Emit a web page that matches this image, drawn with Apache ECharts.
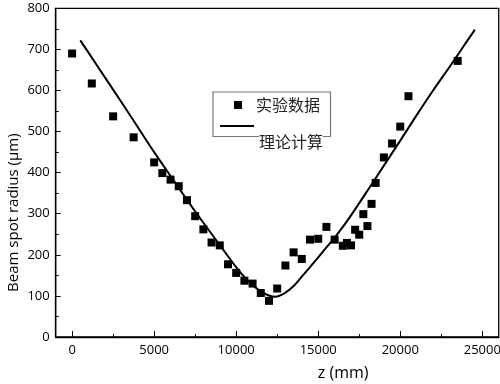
<!DOCTYPE html>
<html>
<head>
<meta charset="utf-8">
<script src="https://cdn.jsdelivr.net/npm/echarts@6/dist/echarts.min.js"></script>
<style>
html,body{margin:0;padding:0;background:#fff;}
#chart{width:500px;height:384px;}
</style>
</head>
<body>
<div id="chart"></div>
<script>
// Experimental data (z in mm, radius in μm)
const expZ = [0,1200,2500,3750,5000,5500,6000,6500,7000,7500,8000,8500,9000,9500,10000,10500,11000,11500,12000,12500,13000,13500,14000,14500,15000,15500,16000,16500,16750,17000,17250,17500,17750,18000,18250,18500,19000,19500,20000,20500,23500];
const expV = [690,617,537,486,425,399,383,367,333,294,262,230,223,177,156,137,130,107,88,118,174,206,190,237,239,268,237,222,229,223,261,249,299,270,324,375,437,471,512,586,672];
// Theoretical curve
const calcZ = [500,1000,2000,3000,4000,5000,6000,7000,8000,9000,10000,10750,11500,12000,12400,13000,13500,14000,14500,15000,15500,16000,16500,17000,18000,19000,20000,21000,22000,23000,24000,24550];
const calcV = [722,692,632,572,511,450,392,334,278,224,170,135,111,101,98,108,124,147,170,194,218,242,268,296,356,417,478,540,600,657,716,748];
// Tick labels
const xMajor = [0,5000,10000,15000,20000,25000];
const xMinor = [2500,7500,12500,17500,22500];
const seriesNames = ['实验数据','理论计算'];

const pair = (a,b) => a.map((v,i)=>[v,b[i]]);
const tickFont = 'Open Sans';
const cjkFont = 'Noto Sans CJK SC';

const chart = echarts.init(document.getElementById('chart'), null, {renderer:'canvas'});
chart.setOption({
  animation:false,
  backgroundColor:'#fff',
  grid:{left:55.7, right:1.3, top:8.3, bottom:47, show:true, borderColor:'#000', borderWidth:1.3, containLabel:false, outerBoundsMode:'none'},
  xAxis:[{
    type:'value', min:-1000, max:26000, position:'bottom',
    axisLine:{show:true, onZero:false, lineStyle:{color:'#000', width:1.3}},
    axisTick:{show:true, inside:true, length:6, customValues:xMajor, lineStyle:{color:'#000', width:1}},
    axisLabel:{customValues:xMajor, formatter:v=>String(v), color:'#000', fontSize:13, fontFamily:tickFont, margin:7},
    splitLine:{show:false},
    name:'z (mm)', nameLocation:'middle', nameGap:28, nameMoveOverlap:false,
    nameTextStyle:{fontSize:16, fontFamily:tickFont, color:'#000', padding:[0,0,0,132]}
  },{
    type:'value', min:-1000, max:26000, position:'bottom',
    axisLine:{show:false, onZero:false},
    axisTick:{show:true, inside:true, length:3, customValues:xMinor, lineStyle:{color:'#000', width:1}},
    axisLabel:{show:false},
    splitLine:{show:false}
  }],
  yAxis:{
    type:'value', min:0, max:800, interval:100,
    axisLine:{show:true, onZero:false, lineStyle:{color:'#000', width:1.3}},
    axisTick:{show:true, inside:true, length:5, lineStyle:{color:'#000', width:1}},
    minorTick:{show:true, splitNumber:2, length:3, lineStyle:{color:'#000', width:1}},
    axisLabel:{color:'#000', fontSize:13, fontFamily:tickFont, margin:6},
    splitLine:{show:false},
    name:'Beam spot radius (μm)', nameLocation:'middle', nameRotate:90, nameGap:34, nameMoveOverlap:false,
    nameTextStyle:{fontSize:15, fontFamily:tickFont, color:'#000', padding:[0,80,0,0]}
  },
  legend:[{
    data:[seriesNames[0]], left:213, top:92, orient:'vertical',
    padding:[4,10.5,22.5,21],
    borderColor:'#777', borderWidth:1.2, backgroundColor:'rgba(255,255,255,0)',
    itemWidth:8, itemHeight:8, icon:'rect', selectedMode:false,
    itemStyle:{opacity:1},
    textStyle:{fontSize:16, lineHeight:18, fontFamily:cjkFont, color:'#222', padding:[0,0,0,9]}
  },{
    data:[seriesNames[1]], left:220, top:100.5, padding:0, orient:'vertical',
    itemWidth:34, itemHeight:2, icon:'rect', selectedMode:false,
    formatter:name=>'{g| }\n{t|'+name+'}',
    textStyle:{fontSize:16, fontFamily:cjkFont, color:'#222',
      rich:{
        g:{fontSize:16, lineHeight:31, height:31},
        t:{fontSize:16, lineHeight:20, fontFamily:cjkFont, color:'#222', backgroundColor:'#fff'}
      }}
  }],
  series:[{
    name:seriesNames[0], type:'scatter', xAxisIndex:0, symbol:'rect', symbolSize:8,
    itemStyle:{color:'#000', opacity:1}, data:pair(expZ, expV), z:3
  },{
    name:seriesNames[1], type:'line', xAxisIndex:0, symbol:'none', smooth:0.3,
    lineStyle:{color:'#000', width:2}, itemStyle:{color:'#000'}, data:pair(calcZ, calcV), z:2
  }]
});
</script>
</body>
</html>
